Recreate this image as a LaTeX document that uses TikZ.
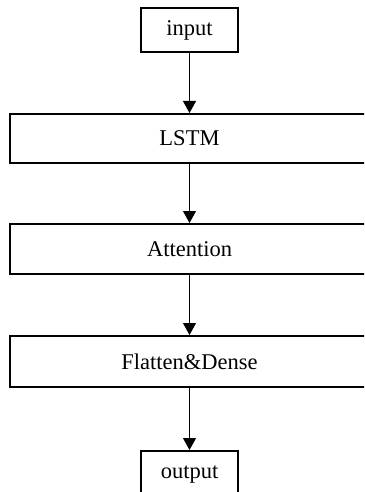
\documentclass[tikz,border=0pt]{standalone}
\usepackage{fontspec}
\setmainfont{Liberation Serif}
\usetikzlibrary{arrows.meta}
\begin{document}
\begin{tikzpicture}[x=1pt,y=-1pt,
  box/.style={draw=black,line width=2pt,fill=white,inner sep=0pt,
    font=\fontsize{22.5}{26}\selectfont},
  smallbox/.style={box,minimum width=97pt},
  widebox/.style={box,minimum width=360pt},
  arr/.style={draw=black,line width=1pt,-{Triangle[length=12pt,width=13pt]}}]
\useasboundingbox (0,0) rectangle (364,492);
\clip (0,0) rectangle (364,492);
\fill[white] (0,0) rectangle (364,492);
\node[smallbox,minimum height=44pt] (in) at (189.5,30) {input};
\node[widebox,minimum height=49pt] (lstm) at (189.5,138.5) {LSTM};
\node[widebox,minimum height=50pt] (att) at (189.5,249) {Attention};
\node[widebox,minimum height=51pt] (fl) at (189.5,361.5) {Flatten\&Dense};
\node[smallbox,minimum height=48pt] (out) at (189.5,475) {output};
\draw[arr] (in) -- (lstm);
\draw[arr] (lstm) -- (att);
\draw[arr] (att) -- (fl);
\draw[arr] (fl) -- (out);
\end{tikzpicture}
\end{document}
